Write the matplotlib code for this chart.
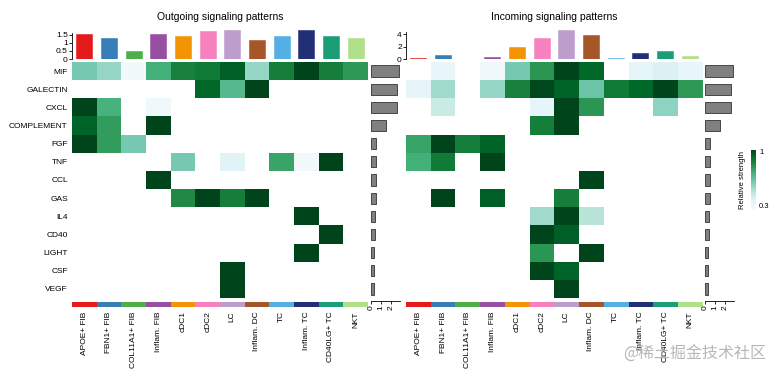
import numpy as np
import matplotlib
matplotlib.use("Agg")
import matplotlib.pyplot as plt
from matplotlib.colors import Normalize

plt.rcParams['font.family'] = ['Liberation Sans', 'DejaVu Sans']

cell_types = ["APOE+ FIB", "FBN1+ FIB", "COL11A1+ FIB", "Inflam. FIB", "cDC1", "cDC2",
              "LC", "Inflam. DC", "TC", "Inflam. TC", "CD40LG+ TC", "NKT"]
cell_colors = ["#E41A1C", "#377EB8", "#4DAF4A", "#984EA3", "#F29403", "#F781BF",
               "#BC9DCC", "#A65628", "#54B0E4", "#222F75", "#1B9E77", "#B2DF8A"]
pathways = ["MIF", "GALECTIN", "CXCL", "COMPLEMENT", "FGF", "TNF", "CCL", "GAS",
            "IL4", "CD40", "LIGHT", "CSF", "VEGF"]

# relative strength (0 = no signal)
outgoing = [
    [0.62, 0.57, 0.33, 0.73, 0.85, 0.87, 0.94, 0.57, 0.86, 1.00, 0.86, 0.79],  # MIF
    [0, 0, 0, 0, 0, 0.92, 0.69, 1.00, 0, 0, 0, 0],                              # GALECTIN
    [1.00, 0.72, 0, 0.34, 0, 0, 0, 0, 0, 0, 0, 0],                              # CXCL
    [0.93, 0.78, 0, 1.00, 0, 0, 0, 0, 0, 0, 0, 0],                              # COMPLEMENT
    [1.00, 0.78, 0.62, 0, 0, 0, 0, 0, 0, 0, 0, 0],                              # FGF
    [0, 0, 0, 0, 0.62, 0, 0.40, 0, 0.76, 0.33, 1.00, 0],                        # TNF
    [0, 0, 0, 1.00, 0, 0, 0, 0, 0, 0, 0, 0],                                    # CCL
    [0, 0, 0, 0, 0.83, 1.00, 0.86, 1.00, 0, 0, 0, 0],                           # GAS
    [0, 0, 0, 0, 0, 0, 0, 0, 0, 1.00, 0, 0],                                    # IL4
    [0, 0, 0, 0, 0, 0, 0, 0, 0, 0, 1.00, 0],                                    # CD40
    [0, 0, 0, 0, 0, 0, 0, 0, 0, 1.00, 0, 0],                                    # LIGHT
    [0, 0, 0, 0, 0, 0, 1.00, 0, 0, 0, 0, 0],                                    # CSF
    [0, 0, 0, 0, 0, 0, 1.00, 0, 0, 0, 0, 0],                                    # VEGF
]
incoming = [
    [0, 0.37, 0, 0.34, 0.62, 0.80, 1.00, 0.92, 0, 0.38, 0.42, 0.37],           # MIF
    [0.38, 0.55, 0, 0.57, 0.85, 0.99, 0.93, 0.64, 0.87, 0.92, 1.00, 0.79],      # GALECTIN
    [0, 0.48, 0, 0, 0, 0.38, 1.00, 0.80, 0, 0, 0.58, 0],                        # CXCL
    [0, 0, 0, 0, 0, 0.86, 1.00, 0, 0, 0, 0, 0],                                 # COMPLEMENT
    [0.76, 1.00, 0.86, 0.93, 0, 0, 0, 0, 0, 0, 0, 0],                           # FGF
    [0.73, 0.87, 0, 1.00, 0, 0, 0, 0, 0, 0, 0, 0],                              # TNF
    [0, 0, 0, 0, 0, 0, 0, 1.00, 0, 0, 0, 0],                                    # CCL
    [0, 1.00, 0, 0.94, 0, 0, 0.86, 0, 0, 0, 0, 0],                              # GAS
    [0, 0, 0, 0, 0, 0.55, 1.00, 0.51, 0, 0, 0, 0],                              # IL4
    [0, 0, 0, 0, 0, 1.00, 0.94, 0, 0, 0, 0, 0],                                 # CD40
    [0, 0, 0, 0, 0, 0.80, 0, 1.00, 0, 0, 0, 0],                                 # LIGHT
    [0, 0, 0, 0, 0, 1.00, 0.93, 0, 0, 0, 0, 0],                                 # CSF
    [0, 0, 0, 0, 0, 0, 1.00, 0, 0, 0, 0, 0],                                    # VEGF
]
out_col_totals = [1.52, 1.28, 0.46, 1.52, 1.39, 1.71, 1.79, 1.18, 1.41, 1.75, 1.44, 1.31]
in_col_totals = [0.10, 0.60, 0.05, 0.28, 1.94, 3.33, 4.72, 3.89, 0.10, 0.89, 1.28, 0.56]
row_totals = [2.8, 2.57, 2.57, 1.5, 0.45, 0.45, 0.45, 0.45, 0.40, 0.38, 0.30, 0.28, 0.25]

W, H = 781, 376
fig = plt.figure(figsize=(W / 100, H / 100), dpi=100)


def px(x0, y0, x1, y1):
    return [x0 / W, 1 - y1 / H, (x1 - x0) / W, (y1 - y0) / H]


cmap = plt.get_cmap("BuGn").copy()
cmap.set_bad("white")
norm = Normalize(vmin=0.3, vmax=1.0)
FS = 6
n_rows, n_cols = len(pathways), len(cell_types)


def panel(x0, x1, mat, col_totals, title, yticks, ylim, show_rows):
    # heatmap
    ax = fig.add_axes(px(x0, 62, x1, 298))
    m = np.ma.masked_equal(np.array(mat, dtype=float), 0)
    ax.imshow(m, cmap=cmap, norm=norm, aspect="auto", interpolation="nearest",
              extent=(-0.5, n_cols - 0.5, n_rows - 0.5, -0.5))
    ax.set_xlim(-0.5, n_cols - 0.5)
    ax.set_ylim(n_rows - 0.5, -0.5)
    for s in ax.spines.values():
        s.set_visible(False)
    ax.set_xticks([])
    if show_rows:
        ax.set_yticks(range(n_rows))
        ax.set_yticklabels(pathways, fontsize=FS)
        ax.tick_params(axis="y", length=0, pad=3)
    else:
        ax.set_yticks([])

    # top bars
    axt = fig.add_axes(px(x0, 28, x1, 59))
    axt.bar(range(n_cols), col_totals, width=0.65, color=cell_colors,
            edgecolor=cell_colors, linewidth=0.4)
    axt.set_xlim(-0.5, n_cols - 0.5)
    axt.set_ylim(0, ylim)
    for k in ["top", "right", "bottom"]:
        axt.spines[k].set_visible(False)
    axt.spines["left"].set_linewidth(0.6)
    axt.spines["left"].set_bounds(0, yticks[-1][0] * 1.08)
    axt.set_xticks([])
    axt.set_yticks([t[0] for t in yticks])
    axt.set_yticklabels([t[1] for t in yticks], fontsize=FS)
    axt.tick_params(axis="y", length=2, width=0.6, pad=1)
    axt.set_title(title, fontsize=7.5, pad=6)

    # color strip + x labels
    axs = fig.add_axes(px(x0, 302, x1, 307))
    axs.imshow(np.arange(n_cols)[None, :], cmap=matplotlib.colors.ListedColormap(cell_colors),
               aspect="auto", extent=(-0.5, n_cols - 0.5, 1, 0))
    axs.set_xlim(-0.5, n_cols - 0.5)
    for s in axs.spines.values():
        s.set_visible(False)
    axs.set_yticks([])
    axs.set_xticks(range(n_cols))
    axs.set_xticklabels(cell_types, rotation=90, fontsize=FS)
    axs.tick_params(axis="x", length=0, pad=3)

    # right row bars
    axr = fig.add_axes(px(x1 + 3, 62, x1 + 32, 298))
    axr.barh(range(n_rows), row_totals, height=0.62, color="#808080",
             edgecolor="#333333", linewidth=0.6)
    axr.set_ylim(n_rows - 0.5, -0.5)
    axr.set_xlim(0, 2.9)
    for k in ["top", "right", "left"]:
        axr.spines[k].set_visible(False)
    axr.spines["bottom"].set_position(("outward", 2))
    axr.spines["bottom"].set_linewidth(0.6)
    axr.set_yticks([])
    axr.set_xticks([0, 1, 2])
    axr.set_xticklabels(["0", "1", "2"], rotation=90, fontsize=FS)
    axr.tick_params(axis="x", length=2, width=0.6, pad=1)


panel(72, 368, outgoing, out_col_totals, "Outgoing signaling patterns",
      [(0, "0"), (0.5, "0.5"), (1, "1"), (1.5, "1.5")], 1.9, True)
panel(406, 702, incoming, in_col_totals, "Incoming signaling patterns",
      [(0, "0"), (2, "2"), (4, "4")], 5.0, False)

# colour legend
axc = fig.add_axes(px(751, 150, 756, 210))
grad = np.linspace(0.3, 1.0, 200)[:, None]
axc.imshow(grad, cmap=cmap, norm=norm, aspect="auto", origin="lower",
           extent=(0, 1, 0.3, 1.0))
axc.set_xticks([])
axc.set_yticks([])
for s in axc.spines.values():
    s.set_visible(False)
fig.text(759 / W, 1 - 153 / H, "1", fontsize=5.5, va="center", ha="left")
fig.text(759 / W, 1 - 207 / H, "0.3", fontsize=5.5, va="center", ha="left")
fig.text(743 / W, 1 - 180 / H, "Relative strength", fontsize=5.5, rotation=90,
         va="center", ha="center")

# watermark
fig.text(695 / W, 1 - 354 / H, "@稀土掘金技术社区", fontsize=11.5, color="#b0b0b0",
         ha="center", va="center", family=["Noto Sans CJK SC", "DejaVu Sans"], alpha=0.9)

fig.savefig("out.png", dpi=100)
